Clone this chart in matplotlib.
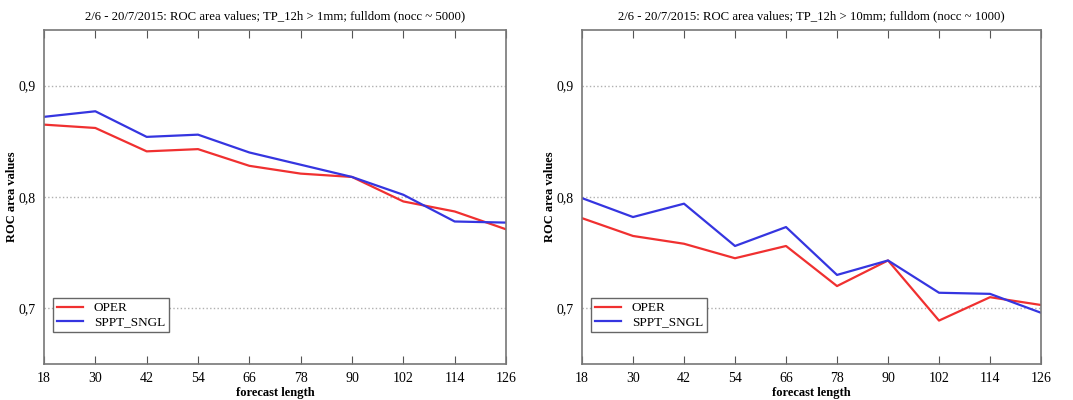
import numpy as np
import matplotlib
matplotlib.use('Agg')
from matplotlib import pyplot as plt
from matplotlib.ticker import FuncFormatter

# forecast lengths (hours)
lead = [18, 30, 42, 54, 66, 78, 90, 102, 114, 126]

# TP_12h > 1mm
oper_1mm = [0.865, 0.862, 0.841, 0.843, 0.828, 0.821, 0.818, 0.796, 0.787, 0.771]
sppt_1mm = [0.872, 0.877, 0.854, 0.856, 0.840, 0.829, 0.818, 0.802, 0.778, 0.777]

# TP_12h > 10mm
oper_10mm = [0.781, 0.765, 0.758, 0.745, 0.756, 0.720, 0.743, 0.689, 0.710, 0.703]
sppt_10mm = [0.799, 0.782, 0.794, 0.756, 0.773, 0.730, 0.743, 0.714, 0.713, 0.696]

titles = ['2/6 - 20/7/2015: ROC area values; TP_12h > 1mm; fulldom (nocc ~ 5000)',
          '2/6 - 20/7/2015: ROC area values; TP_12h > 10mm; fulldom (nocc ~ 1000)']

plt.rcParams['font.family'] = ['Liberation Serif', 'DejaVu Serif']

fig = plt.figure(figsize=(10.73, 4.0), dpi=100)
ax1 = fig.add_axes([0.041, 0.09, 0.4306, 0.835])
ax2 = fig.add_axes([0.5424, 0.09, 0.4278, 0.835])

comma = FuncFormatter(lambda v, p: ('%.1f' % v).replace('.', ','))

for ax, oper, sppt, title in [(ax1, oper_1mm, sppt_1mm, titles[0]),
                              (ax2, oper_10mm, sppt_10mm, titles[1])]:
    ax.plot(lead, oper, color='#f03030', lw=1.6, label='OPER')
    ax.plot(lead, sppt, color='#3535e0', lw=1.6, label='SPPT_SNGL')
    ax.set_xlim(18, 126)
    ax.set_ylim(0.65, 0.95)
    ax.set_xticks(lead)
    ax.set_yticks([0.7, 0.8, 0.9])
    ax.yaxis.set_major_formatter(comma)
    ax.grid(axis='y', linestyle=':', color='#b0b0b0', lw=1.0)
    ax.tick_params(axis='x', direction='in', top=True, length=6, color='#555555',
                   labelsize=10, pad=6)
    ax.tick_params(axis='y', length=0, labelsize=10, pad=6)
    for s in ax.spines.values():
        s.set_color('#777777')
        s.set_linewidth(1.2)
    ax.set_title(title, fontsize=9.2, pad=8)
    ax.set_xlabel('forecast length', fontsize=9, fontweight='bold', labelpad=1)
    ax.set_ylabel('ROC area values', fontsize=9, fontweight='bold', labelpad=0)
    leg = ax.legend(loc='lower left', bbox_to_anchor=(0.005, 0.075), fontsize=9.5,
                    fancybox=False, framealpha=1, edgecolor='#666666',
                    handlelength=2.0, borderpad=0.3, labelspacing=0.15)
    leg.get_frame().set_linewidth(1.0)

fig.savefig('out.png', dpi=100)
